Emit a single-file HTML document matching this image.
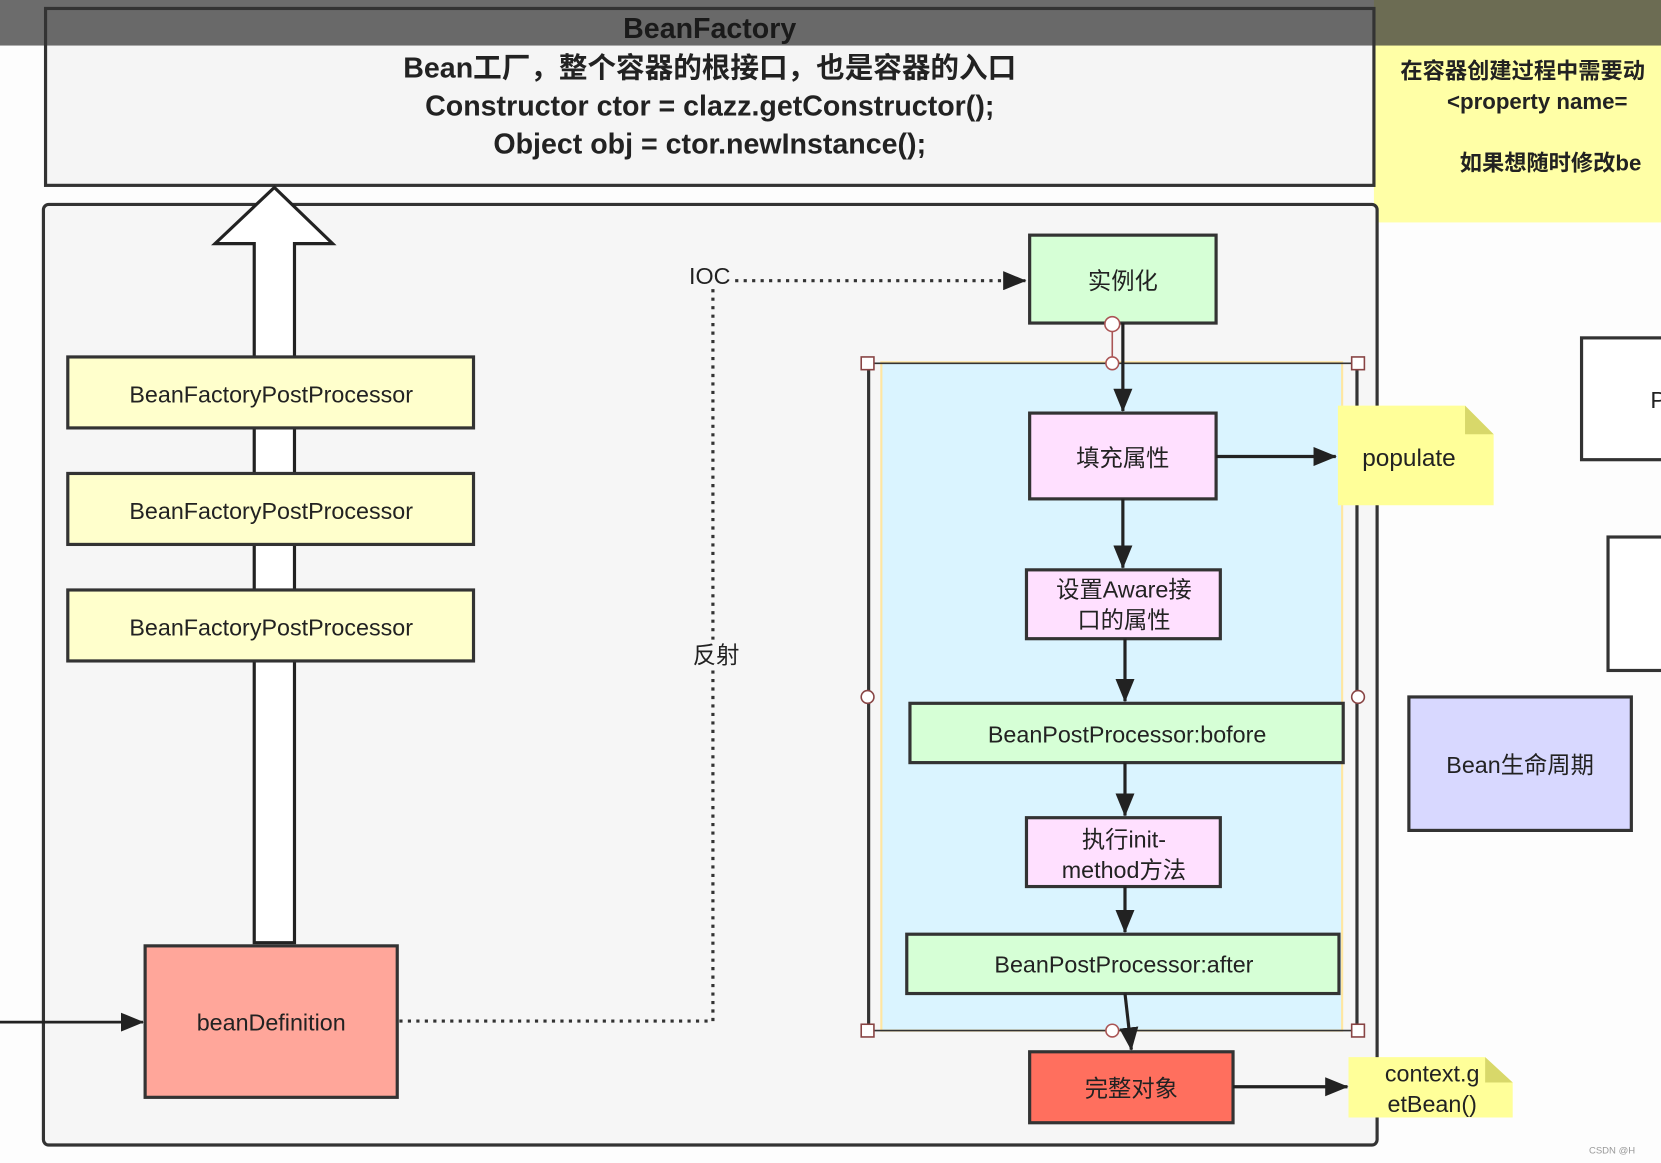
<!DOCTYPE html>
<html><head><meta charset="utf-8"><style>
html,body{margin:0;padding:0;background:#fff;}
svg{display:block;}
text{font-family:"Liberation Sans","Noto Sans CJK SC",sans-serif;fill:#222;}
</style></head><body>
<svg width="1661" height="1163" viewBox="0 0 1568 1098" preserveAspectRatio="none" xmlns="http://www.w3.org/2000/svg">
<defs>
<marker id="ah" markerWidth="10" markerHeight="10" refX="9" refY="5" orient="auto" markerUnits="userSpaceOnUse" viewBox="0 0 10 10"><path d="M0,0 L10,5 L0,10 z" fill="#222"/></marker>
<marker id="ahb" markerWidth="22" markerHeight="18" refX="21" refY="9" orient="auto" markerUnits="userSpaceOnUse"><path d="M0,0 L22,9 L0,18 z" fill="#222"/></marker>
</defs>
<rect width="1568" height="1098" fill="#fdfdfd"/>
<!-- right yellow note -->
<rect x="1297" y="0" width="271" height="210" fill="#ffffa6"/>
<text x="1322" y="74" font-size="21" font-weight="bold">在容器创建过程中需要动</text>
<text x="1366" y="103" font-size="21" font-weight="bold">&lt;property name=</text>
<text x="1378" y="161" font-size="21" font-weight="bold">如果想随时修改be</text>
<!-- BeanFactory box -->
<rect x="43" y="8" width="1254" height="167" fill="#f5f5f5" stroke="#333" stroke-width="3"/>
<text x="670" y="73" font-size="27" font-weight="bold" text-anchor="middle">Bean工厂，整个容器的根接口，也是容器的入口</text>
<text x="670" y="109" font-size="27" font-weight="bold" text-anchor="middle">Constructor ctor = clazz.getConstructor();</text>
<text x="670" y="145" font-size="27" font-weight="bold" text-anchor="middle">Object obj  = ctor.newInstance();</text>
<!-- dark band -->
<rect x="0" y="0" width="1568" height="43" fill="#333" opacity="0.72"/>
<text x="670" y="36" font-size="27" font-weight="bold" text-anchor="middle" style="fill:#1a1a1a">BeanFactory</text>
<!-- container -->
<rect x="41" y="193" width="1259" height="888" rx="5" fill="#f6f6f6" stroke="#333" stroke-width="3"/>
<!-- hollow arrow -->
<path d="M240,890 L240,230 L203,230 L259,177 L314,230 L278,230 L278,890 Z" fill="#fff" stroke="#222" stroke-width="3"/>
<!-- BFPP -->
<g font-size="22">
<rect x="64" y="337" width="383" height="67" fill="#ffffcc" stroke="#333" stroke-width="3"/>
<text x="256" y="380" text-anchor="middle">BeanFactoryPostProcessor</text>
<rect x="64" y="447" width="383" height="67" fill="#ffffcc" stroke="#333" stroke-width="3"/>
<text x="256" y="490" text-anchor="middle">BeanFactoryPostProcessor</text>
<rect x="64" y="557" width="383" height="67" fill="#ffffcc" stroke="#333" stroke-width="3"/>
<text x="256" y="600" text-anchor="middle">BeanFactoryPostProcessor</text>
</g>
<!-- beanDefinition -->
<rect x="137" y="893" width="238" height="143" fill="#ffa69a" stroke="#333" stroke-width="3"/>
<text x="256" y="973" font-size="22" text-anchor="middle">beanDefinition</text>
<line x1="0" y1="965" x2="135" y2="965" stroke="#222" stroke-width="2.5" marker-end="url(#ahb)"/>
<!-- dotted -->
<path d="M377,964 L673,964 L673,265 L968,265" fill="none" stroke="#333" stroke-width="3" stroke-dasharray="3,5" marker-end="url(#ahb)"/>
<rect x="648" y="248" width="44" height="24" fill="#f6f6f6"/>
<text x="670" y="268" font-size="22" text-anchor="middle">IOC</text>
<rect x="650" y="604" width="50" height="28" fill="#f6f6f6"/>
<text x="676" y="626" font-size="22" text-anchor="middle">反射</text>
<!-- blue group -->
<rect x="832" y="342" width="435" height="631" fill="#daf4ff" stroke="#ffe6a0" stroke-width="2"/>
<line x1="820" y1="343" x2="820" y2="973" stroke="#333" stroke-width="3"/>
<line x1="1281" y1="343" x2="1281" y2="973" stroke="#333" stroke-width="3"/>
<line x1="820" y1="343" x2="1281" y2="343" stroke="#333" stroke-width="1.5"/>
<line x1="820" y1="973" x2="1281" y2="973" stroke="#333" stroke-width="1.5"/>
<g fill="#fff" stroke="#844" stroke-width="1.5">
<rect x="813" y="337" width="12" height="12"/><rect x="1276" y="337" width="12" height="12"/>
<rect x="813" y="967" width="12" height="12"/><rect x="1276" y="967" width="12" height="12"/>
<circle cx="819" cy="658" r="6"/><circle cx="1282" cy="658" r="6"/>
</g>
<!-- 实例化 -->
<rect x="972" y="222" width="176" height="83" fill="#d6ffd6" stroke="#333" stroke-width="3"/>
<text x="1060" y="273" font-size="22" text-anchor="middle">实例化</text>
<line x1="1060" y1="305" x2="1060" y2="388" stroke="#222" stroke-width="3" marker-end="url(#ahb)"/>
<line x1="1050" y1="306" x2="1050" y2="343" stroke="#a55" stroke-width="1.5"/>
<circle cx="1050" cy="306" r="7" fill="#fff" stroke="#a55" stroke-width="1.5"/>
<circle cx="1050" cy="343" r="6" fill="#fff" stroke="#a55" stroke-width="1.5"/>
<!-- 填充属性 -->
<rect x="972" y="390" width="176" height="81" fill="#ffe0ff" stroke="#333" stroke-width="3"/>
<text x="1060" y="440" font-size="22" text-anchor="middle">填充属性</text>
<line x1="1060" y1="471" x2="1060" y2="536" stroke="#222" stroke-width="3" marker-end="url(#ahb)"/>
<line x1="1148" y1="431" x2="1261" y2="431" stroke="#222" stroke-width="3" marker-end="url(#ahb)"/>
<!-- Aware -->
<rect x="969" y="538" width="183" height="65" fill="#ffe0ff" stroke="#333" stroke-width="3"/>
<text x="1061" y="564" font-size="22" text-anchor="middle">设置Aware接</text>
<text x="1061" y="593" font-size="22" text-anchor="middle">口的属性</text>
<line x1="1062" y1="603" x2="1062" y2="662" stroke="#222" stroke-width="3" marker-end="url(#ahb)"/>
<!-- BPP before -->
<rect x="859" y="664" width="409" height="56" fill="#d6ffd6" stroke="#333" stroke-width="3"/>
<text x="1064" y="701" font-size="22" text-anchor="middle">BeanPostProcessor:bofore</text>
<line x1="1062" y1="720" x2="1062" y2="770" stroke="#222" stroke-width="3" marker-end="url(#ahb)"/>
<!-- init -->
<rect x="969" y="772" width="183" height="65" fill="#ffe0ff" stroke="#333" stroke-width="3"/>
<text x="1061" y="800" font-size="22" text-anchor="middle">执行init-</text>
<text x="1061" y="829" font-size="22" text-anchor="middle">method方法</text>
<line x1="1062" y1="837" x2="1062" y2="880" stroke="#222" stroke-width="3" marker-end="url(#ahb)"/>
<!-- BPP after -->
<rect x="856" y="882" width="408" height="56" fill="#d6ffd6" stroke="#333" stroke-width="3"/>
<text x="1061" y="918" font-size="22" text-anchor="middle">BeanPostProcessor:after</text>
<line x1="1062" y1="938" x2="1068" y2="991" stroke="#222" stroke-width="3" marker-end="url(#ahb)"/>
<circle cx="1050" cy="973" r="6" fill="#fff" stroke="#a55" stroke-width="1.5"/>
<!-- 完整对象 -->
<rect x="972" y="993" width="192" height="67" fill="#ff6f5e" stroke="#333" stroke-width="3"/>
<text x="1068" y="1035" font-size="22" text-anchor="middle">完整对象</text>
<line x1="1164" y1="1026" x2="1272" y2="1026" stroke="#222" stroke-width="3" marker-end="url(#ahb)"/>
<!-- populate note -->
<path d="M1263,383 L1383,383 L1410,410 L1410,477 L1263,477 Z" fill="#ffff99"/>
<path d="M1383,383 L1410,410 L1383,410 Z" fill="#d8d86a"/>
<text x="1286" y="440" font-size="23">populate</text>
<!-- context note -->
<path d="M1273,998 L1402,998 L1428,1022 L1428,1055 L1273,1055 Z" fill="#ffff99"/>
<path d="M1402,998 L1428,1022 L1402,1022 Z" fill="#d8d86a"/>
<text x="1352" y="1021" font-size="22" text-anchor="middle">context.g</text>
<text x="1352" y="1050" font-size="22" text-anchor="middle">etBean()</text>
<!-- right -->
<rect x="1330" y="658" width="210" height="126" fill="#d8d8ff" stroke="#333" stroke-width="3"/>
<text x="1435" y="730" font-size="22" text-anchor="middle">Bean生命周期</text>
<rect x="1493" y="319" width="80" height="115" fill="#fff" stroke="#333" stroke-width="3"/>
<text x="1558" y="385" font-size="22">P</text>
<rect x="1518" y="507" width="60" height="126" fill="#fff" stroke="#333" stroke-width="3"/>
<text x="1500" y="1089" font-size="9" style="fill:#999">CSDN @H
